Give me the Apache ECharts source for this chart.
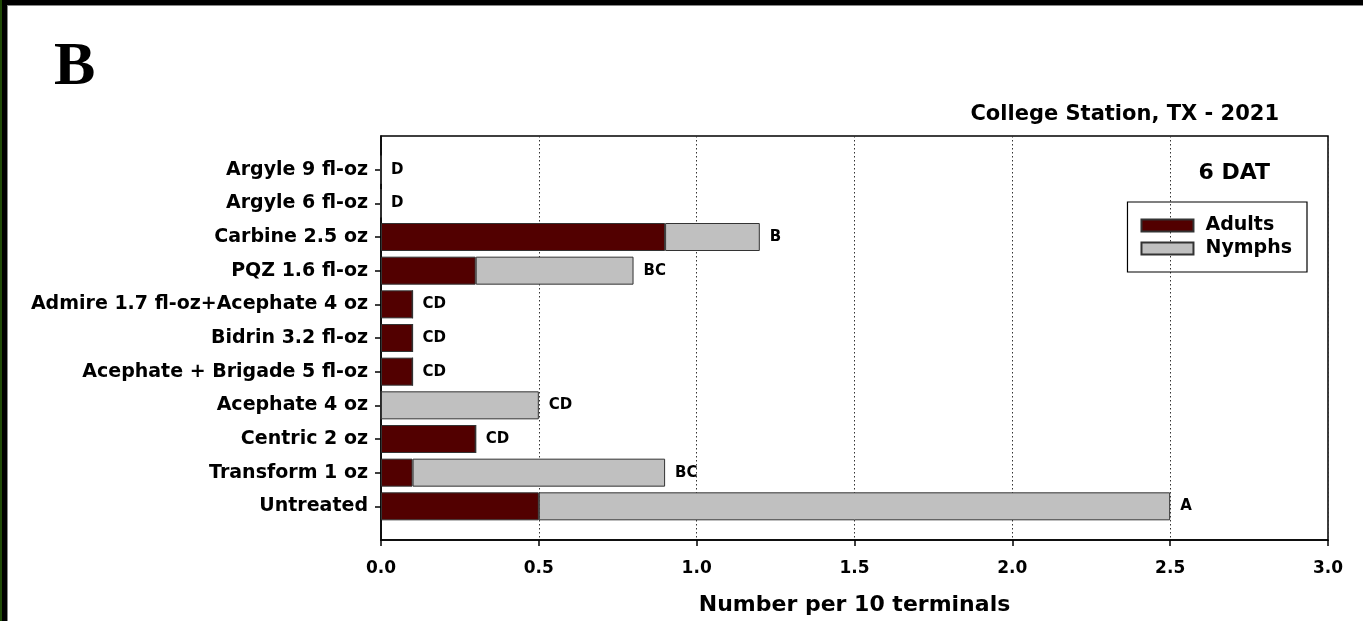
<!DOCTYPE html>
<html>
<head>
<meta charset="utf-8">
<script src="https://cdn.jsdelivr.net/npm/echarts@6/dist/echarts.min.js"></script>
<style>
  html, body { margin: 0; padding: 0; background: #000; }
  #strip { position: absolute; left: 0; top: 0; width: 2px; height: 621px; background: #1f4a06; }
  #frame { position: absolute; left: 7px; top: 5px; width: 1356px; height: 616px; background: #fff; border-left: 1px solid #888; border-top: 1px solid #888; box-sizing: border-box; }
  #main { position: absolute; left: 0; top: 0; width: 1363px; height: 621px; }
</style>
</head>
<body>
<div id="strip"></div>
<div id="frame"></div>
<div id="main"></div>
<script>
// treatments, top to bottom (empty slots at both ends keep the half gap)
var treatments = ['', 'Argyle 9 fl-oz', 'Argyle 6 fl-oz', 'Carbine 2.5 oz', 'PQZ 1.6 fl-oz',
  'Admire 1.7 fl-oz+Acephate 4 oz', 'Bidrin 3.2 fl-oz', 'Acephate + Brigade 5 fl-oz',
  'Acephate 4 oz', 'Centric 2 oz', 'Transform 1 oz', 'Untreated', ''];
var adults = ['-', 0, 0, 0.9, 0.3, 0.1, 0.1, 0.1, 0, 0.3, 0.1, 0.5, '-'];
var nymphs = ['-', 0, 0, 0.3, 0.5, 0, 0, 0, 0.5, 0, 0.8, 2.0, '-'];
// mean separation letters
var letters = ['', 'D', 'D', 'B', 'BC', 'CD', 'CD', 'CD', 'CD', 'CD', 'BC', 'A', ''];
var labelSlot = ['-', 0, 0, 0, 0, 0, 0, 0, 0, 0, 0, 0, '-'];

var font = 'DejaVu Sans, Verdana, sans-serif';
var chart = echarts.init(document.getElementById('main'));

var option = {
  backgroundColor: 'transparent',
  animation: false,
  title: [
    { text: 'B', left: 49, top: 32,
      textStyle: { fontFamily: 'Liberation Serif, Times New Roman, serif', fontSize: 62, fontWeight: 'bold', color: '#000' } },
    { text: 'College Station, TX - 2021', right: 79, top: 99,
      textStyle: { fontFamily: font, fontSize: 21, fontWeight: 'bold', color: '#000' } },
    { text: '6 DAT', right: 88, top: 157,
      textStyle: { fontFamily: font, fontSize: 22, fontWeight: 'bold', color: '#000' } }
  ],
  legend: {
    data: ['Adults', 'Nymphs'],
    orient: 'vertical',
    right: 56, top: 202,
    padding: [14, 15, 14, 13],
    itemGap: 4,
    itemWidth: 52, itemHeight: 12,
    icon: 'rect',
    borderColor: '#000', borderWidth: 1.2, borderRadius: 0,
    textStyle: { fontFamily: font, fontSize: 19, fontWeight: 'bold', color: '#000', padding: [0, 0, 0, 7] }
  },
  grid: {
    left: 381, right: 35, top: 136, bottom: 79,
    show: true, borderColor: '#000', borderWidth: 1.5, containLabel: false
  },
  xAxis: {
    type: 'value', min: 0, max: 3, interval: 0.5,
    name: 'Number per 10 terminals', nameLocation: 'middle', nameGap: 54,
    nameTextStyle: { fontFamily: font, fontSize: 22, fontWeight: 'bold', color: '#000' },
    axisLine: { show: true, lineStyle: { color: '#000', width: 1.5 } },
    axisTick: { show: true, inside: false, length: 6, lineStyle: { color: '#000', width: 1.5 } },
    axisLabel: { margin: 20, fontFamily: font, fontSize: 17, fontWeight: 'bold', color: '#000',
      formatter: function (v) { return v.toFixed(1); } },
    splitLine: { show: true, lineStyle: { color: '#333', type: [1.5, 2.5], width: 1 } }
  },
  yAxis: {
    type: 'category', data: treatments, inverse: true, boundaryGap: false,
    axisLine: { show: true, lineStyle: { color: '#000', width: 1.5 } },
    axisTick: { show: true, length: 6, lineStyle: { color: '#000', width: 1.5 },
      interval: function (i) { return i > 0 && i < treatments.length - 1; } },
    axisLabel: { margin: 13, fontFamily: font, fontSize: 19, fontWeight: 'bold', color: '#000',
      interval: 0 },
    splitLine: { show: false }
  },
  series: [
    { name: 'Adults', type: 'bar', stack: 'total', data: adults, barWidth: 28,
      itemStyle: { color: '#520000', borderColor: '#333', borderWidth: 1 } },
    { name: 'Nymphs', type: 'bar', stack: 'total', data: nymphs, barWidth: 28,
      itemStyle: { color: '#c0c0c0', borderColor: '#333', borderWidth: 1 } },
    { name: 'letters', type: 'bar', stack: 'total', data: labelSlot, barWidth: 28,
      itemStyle: { color: 'transparent', borderWidth: 0 },
      label: { show: true, position: 'right', distance: 10,
        fontFamily: font, fontSize: 15, fontWeight: 'bold', color: '#000',
        formatter: function (p) { return letters[p.dataIndex]; } } }
  ]
};
chart.setOption(option);
</script>
</body>
</html>
